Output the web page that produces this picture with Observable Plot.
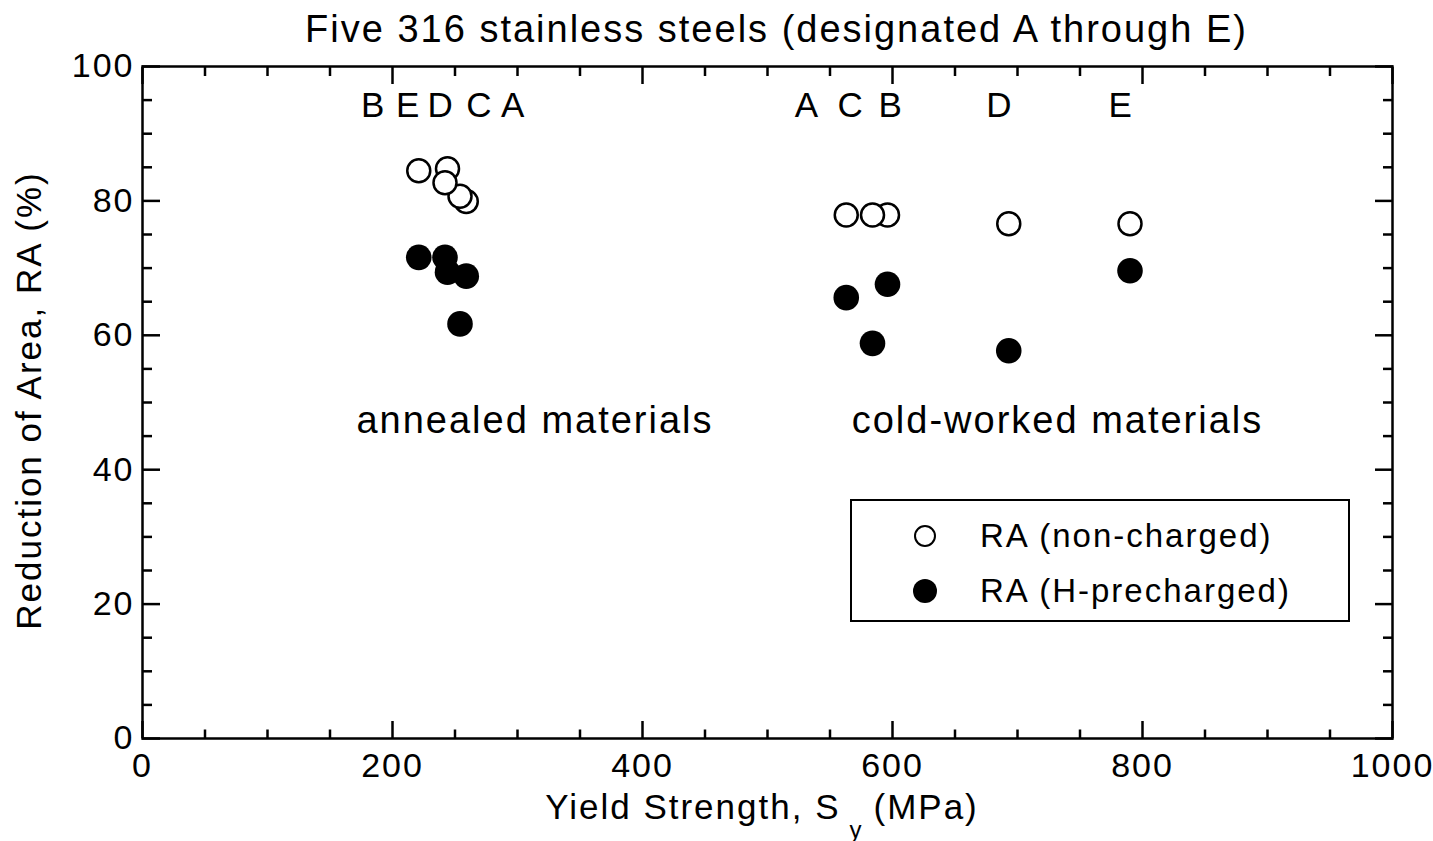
<!DOCTYPE html>
<html>
<head>
<meta charset="utf-8">
<script src="https://cdn.jsdelivr.net/npm/d3@7"></script>
<script src="https://cdn.jsdelivr.net/npm/@observablehq/plot@0.6"></script>
<style>
  body { margin: 0; background: #fff; }
  #wrap { position: relative; width: 1433px; height: 841px; font-family: "Liberation Sans", Arial, Helvetica, sans-serif; color: #000; }
  #wrap svg text { letter-spacing: 2px; }
  .legend { position: absolute; left: 850px; top: 499px; width: 500px; height: 123px; box-sizing: border-box;
            border: 2px solid #000; background: #fff; font-size: 33px; letter-spacing: 2px; }
  .legend .row { position: absolute; left: 0; height: 40px; line-height: 40px; }
  .legend .sym { position: absolute; left: 58px; top: 5px; width: 30px; height: 30px; }
  .legend .lbl { position: absolute; left: 128px; top: 0; white-space: nowrap; }
</style>
</head>
<body>
<div id="wrap"></div>
<script>
// ---- data ----
const steelAnnealed   = ["B", "E", "D", "C", "A"];
const yieldAnnealed   = [221, 242, 244, 254, 259];
const raNonAnnealed   = [84.5, 82.7, 84.8, 80.7, 79.9];
const raHAnnealed     = [71.6, 71.6, 69.4, 61.7, 68.8];

const steelCold       = ["A", "C", "B", "D", "E"];
const yieldCold       = [563, 584, 596, 693, 790];
const raNonCold       = [77.9, 77.9, 77.9, 76.6, 76.6];
const raHCold         = [65.6, 58.8, 67.6, 57.7, 69.6];

// steel letter annotations (x position in MPa, y in %)
const letterXAnnealed = [185, 213, 239, 270, 297];
const letterXCold     = [532, 567, 599, 686, 783];
const letterY         = 94.2;

// group annotations
const groupNames = ["annealed materials", "cold-worked materials"];
const groupX     = [314, 732];
const groupY     = [47.2, 47.2];

const xMajor = [0, 200, 400, 600, 800, 1000];
const yMajor = [0, 20, 40, 60, 80, 100];
const xMinor = d3.range(0, 1001, 50).filter(v => v % 200 !== 0);
const yMinor = d3.range(0, 101, 5).filter(v => v % 20 !== 0);

const title  = "Five 316 stainless steels (designated A through E)";
const yLabel = "Reduction of Area, RA (%)";
const legendLabels = ["RA (non-charged)", "RA (H-precharged)"];

// ---- tables ----
const openPts = [
  ...yieldAnnealed.map((sy, i) => ({sy, ra: raNonAnnealed[i], steel: steelAnnealed[i]})),
  ...yieldCold.map((sy, i) => ({sy, ra: raNonCold[i], steel: steelCold[i]}))
].sort((a, b) => b.sy - a.sy);
const filledPts = [
  ...yieldAnnealed.map((sy, i) => ({sy, ra: raHAnnealed[i], steel: steelAnnealed[i]})),
  ...yieldCold.map((sy, i) => ({sy, ra: raHCold[i], steel: steelCold[i]}))
];
const letters = [
  ...letterXAnnealed.map((x, i) => ({x, y: letterY, s: steelAnnealed[i]})),
  ...letterXCold.map((x, i) => ({x, y: letterY, s: steelCold[i]}))
];
const groups = groupNames.map((s, i) => ({s, x: groupX[i], y: groupY[i]}));

const sw = 2.5;
const chart = Plot.plot({
  width: 1433,
  height: 841,
  marginLeft: 142,
  marginRight: 41,
  marginTop: 66,
  marginBottom: 103,
  x: {domain: [0, 1000]},
  y: {domain: [0, 100]},
  style: {fontFamily: '"Liberation Sans", Arial, Helvetica, sans-serif', fontSize: "33px", color: "#000", background: "#fff", overflow: "visible"},
  marks: [
    // inward ticks on all four sides
    Plot.axisX({anchor: "bottom", ticks: xMajor, tickSize: -17, fill: "none", strokeWidth: sw}),
    Plot.axisX({anchor: "bottom", ticks: xMinor, tickSize: -8.5, fill: "none", strokeWidth: sw}),
    Plot.axisX({anchor: "top", ticks: xMajor, tickSize: -17, fill: "none", strokeWidth: sw}),
    Plot.axisX({anchor: "top", ticks: xMinor, tickSize: -9, fill: "none", strokeWidth: sw}),
    Plot.axisY({anchor: "left", ticks: yMajor, tickSize: -18, fill: "none", strokeWidth: sw}),
    Plot.axisY({anchor: "left", ticks: yMinor, tickSize: -10, fill: "none", strokeWidth: sw}),
    Plot.axisY({anchor: "right", ticks: yMajor, tickSize: -18, fill: "none", strokeWidth: sw}),
    Plot.axisY({anchor: "right", ticks: yMinor, tickSize: -10, fill: "none", strokeWidth: sw}),
    // tick labels
    Plot.axisX({anchor: "bottom", ticks: xMajor, tickSize: 0, tickPadding: 14, stroke: "none", label: null, tickFormat: d => `${d}`, fontSize: 34}),
    Plot.axisY({anchor: "left", ticks: yMajor, tickSize: 0, tickPadding: 8, stroke: "none", label: null, tickFormat: d => `${d}`, fontSize: 34}),
    Plot.frame({stroke: "#000", strokeWidth: sw}),
    // data
    Plot.dot(openPts, {x: "sy", y: "ra", r: 11.5, stroke: "#000", strokeWidth: 2.5, fill: "#fff"}),
    Plot.dot(filledPts, {x: "sy", y: "ra", r: 12.8, fill: "#000", stroke: "none"}),
    // annotations
    Plot.text(letters, {x: "x", y: "y", text: "s", fontSize: 35, lineAnchor: "middle"}),
    Plot.text(groups, {x: "x", y: "y", text: "s", fontSize: 38, lineAnchor: "middle"}),
    // title and axis labels
    Plot.text([title], {text: d => d, frameAnchor: "top", textAnchor: "middle", dx: 9, dy: -37, fontSize: 38, lineAnchor: "middle"}),
    Plot.text([yLabel], {text: d => d, frameAnchor: "left", textAnchor: "middle", rotate: -90, dx: -113, dy: -2, fontSize: 35, lineAnchor: "middle"}),
    Plot.text(["Yield Strength, S"], {text: d => d, frameAnchor: "bottom", textAnchor: "end", dx: 73, dy: 69, fontSize: 35, lineAnchor: "middle"}),
    Plot.text(["y"], {text: d => d, frameAnchor: "bottom", textAnchor: "middle", dx: 89, dy: 92, fontSize: 24, lineAnchor: "middle"}),
    Plot.text(["(MPa)"], {text: d => d, frameAnchor: "bottom", textAnchor: "start", dx: 106, dy: 69, fontSize: 35, lineAnchor: "middle"})
  ]
});

const wrap = document.getElementById("wrap");
wrap.appendChild(chart);

// legend (HTML, placed inside the plot frame)
const legend = document.createElement("div");
legend.className = "legend";
const rows = [
  {top: 15, fill: "#fff", stroke: "#000", r: 10},
  {top: 70, fill: "#000", stroke: "none", r: 12}
];
rows.forEach((row, i) => {
  const div = document.createElement("div");
  div.className = "row";
  div.style.top = row.top + "px";
  div.style.width = "496px";
  div.innerHTML = `<svg class="sym" viewBox="0 0 30 30"><circle cx="15" cy="15" r="${row.r}" fill="${row.fill}" stroke="${row.stroke}" stroke-width="2"/></svg><span class="lbl">${legendLabels[i]}</span>`;
  legend.appendChild(div);
});
wrap.appendChild(legend);
</script>
</body>
</html>
